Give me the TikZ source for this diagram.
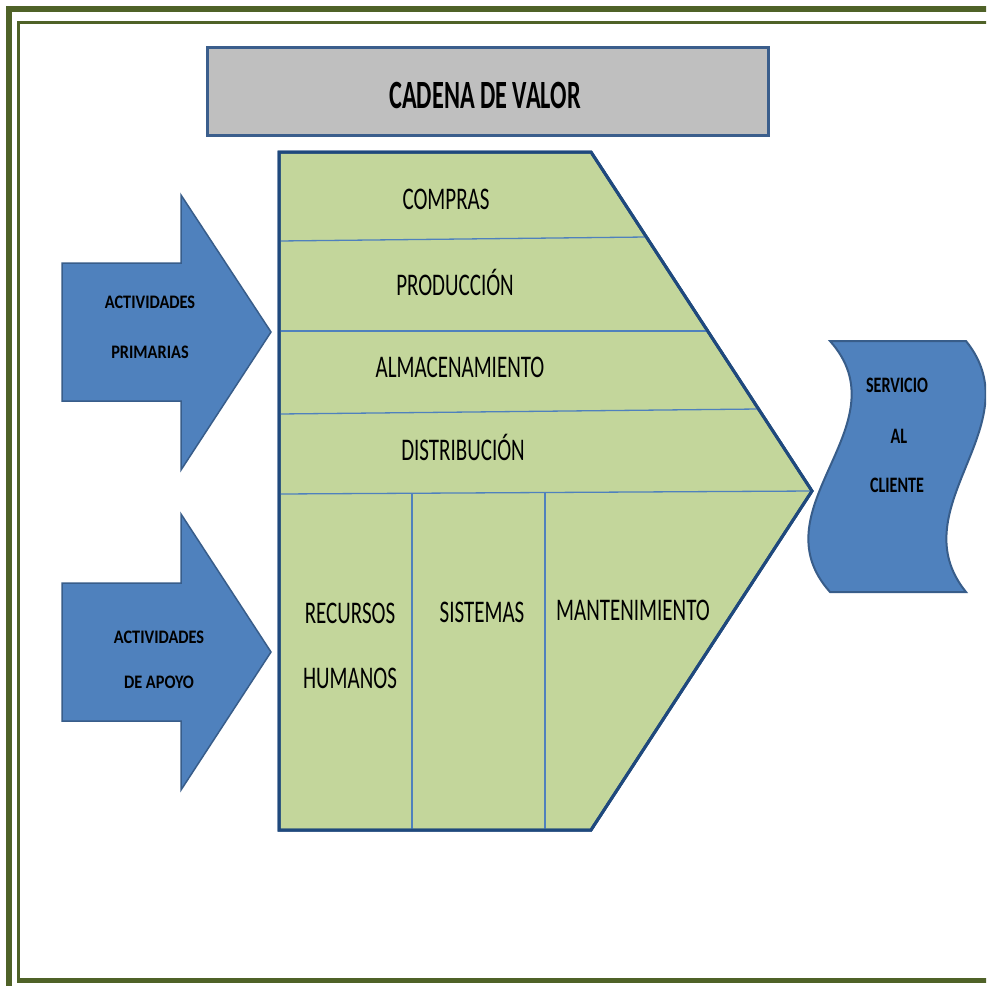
\documentclass[tikz,border=0pt]{standalone}
\usepackage{fontspec}
\setmainfont{Carlito}
\usepackage{graphicx}

\definecolor{frameolive}{HTML}{4F6228}
\definecolor{titlegray}{HTML}{BFBFBF}
\definecolor{titleedge}{HTML}{3B5E8C}
\definecolor{chevfill}{HTML}{C3D69B}
\definecolor{chevedge}{HTML}{1F497D}
\definecolor{divider}{HTML}{4F81BD}
\definecolor{shapeblue}{HTML}{4F81BD}
\definecolor{shapeedge}{HTML}{385D8A}

% vertically stretched text
\newcommand{\vstr}[2]{\scalebox{1}[#1]{#2}}

\begin{document}
\begin{tikzpicture}[x=1pt,y=-1pt,
  framethick/.style={draw=frameolive,line width=6pt},
  framethin/.style={draw=frameolive,line width=3pt},
  titlebox/.style={draw=titleedge,fill=titlegray,line width=3pt,minimum width=561pt,minimum height=88pt,inner sep=0pt},
  chevron/.style={draw=chevedge,fill=chevfill,line width=3pt,line join=miter},
  divline/.style={draw=divider,line width=1.3pt},
  blockarrow/.style={draw=shapeedge,fill=shapeblue,line width=1.5pt,line join=miter},
  waveshape/.style={draw=shapeedge,fill=shapeblue,line width=2pt},
  titletext/.style={inner sep=0pt,anchor=base,font=\fontsize{24.3}{28}\selectfont\bfseries},
  chevtext/.style={inner sep=0pt,anchor=base,font=\fontsize{21}{25}\selectfont},
  arrowtext/.style={inner sep=0pt,anchor=base,font=\fontsize{16.3}{19}\selectfont\bfseries},
  wavetext/.style={inner sep=0pt,anchor=base,font=\fontsize{16.1}{19}\selectfont\bfseries}
]
\useasboundingbox (0,0) rectangle (986,986);
\fill[white] (0,0) rectangle (986,986);
\clip (0,0) rectangle (986,986);

% double page frame
\draw[framethick] (9,1000) -- (9,9) -- (1000,9);
\draw[framethin] (18.5,980.5) -- (18.5,22.5) -- (1000,22.5);
\draw[draw=frameolive,line width=5pt] (17,980.5) -- (1000,980.5);

% title
\node[titlebox] (title) at (487.5,91) {};
\node[titletext] (titlelbl) at (485,108) {\vstr{1.65}{CADENA DE VALOR}};

% value chain chevron
\coordinate (ctl) at (279,152);
\coordinate (ctr) at (591,152);
\coordinate (tip) at (812,491);
\coordinate (cbr) at (591,830);
\coordinate (cbl) at (279,830);
\path[chevron] (ctl) -- (ctr) -- (tip) -- (cbr) -- (cbl) -- cycle;

\coordinate (d1l) at (279,241);   \coordinate (d1r) at (646,237);
\coordinate (d2l) at (279,331);   \coordinate (d2r) at (707,331);
\coordinate (d3l) at (279,414);   \coordinate (d3r) at (758,409);
\coordinate (d4l) at (279,494);   \coordinate (d4r) at (tip);
\coordinate (v1t) at (412,493);   \coordinate (v1b) at (412,830);
\coordinate (v2t) at (545,492);   \coordinate (v2b) at (545,830);
\draw[divline] (d1l) -- (d1r);
\draw[divline] (d2l) -- (d2r);
\draw[divline] (d3l) -- (d3r);
\draw[divline] (d4l) -- (d4r);
\draw[divline] (v1t) -- (v1b);
\draw[divline] (v2t) -- (v2b);
\path[chevron,fill=none] (ctl) -- (ctr) -- (tip) -- (cbr) -- (cbl) -- cycle;

\node[chevtext] (compras) at (446,209) {\vstr{1.5}{COMPRAS}};
\node[chevtext] (produccion) at (455,295) {\vstr{1.5}{PRODUCCIÓN}};
\node[chevtext] (almacen) at (460,377) {\vstr{1.5}{ALMACENAMIENTO}};
\node[chevtext] (distrib) at (463,460) {\vstr{1.5}{DISTRIBUCIÓN}};
\node[chevtext] (recursos) at (350,623) {\vstr{1.5}{RECURSOS}};
\node[chevtext] (humanos) at (350,688) {\vstr{1.5}{HUMANOS}};
\node[chevtext] (sistemas) at (482,622) {\vstr{1.5}{SISTEMAS}};
\node[chevtext] (manten) at (633,620) {\vstr{1.5}{MANTENIMIENTO}};

% input arrows
\path[blockarrow] (62,263) -- (181,263) -- (181,195) -- (271,332) -- (181,470) -- (181,401) -- (62,401) -- cycle;
\path[blockarrow] (62,583) -- (181,583) -- (181,514) -- (271,652) -- (181,790) -- (181,721) -- (62,721) -- cycle;
\node[arrowtext] (prim1) at (150,308) {\vstr{1.17}{ACTIVIDADES}};
\node[arrowtext] (prim2) at (150,358) {\vstr{1.17}{PRIMARIAS}};
\node[arrowtext] (apoyo1) at (159,643) {\vstr{1.17}{ACTIVIDADES}};
\node[arrowtext] (apoyo2) at (159,688) {\vstr{1.17}{DE APOYO}};

% customer service wave
\path[waveshape] (830,341) -- (966,341)
  .. controls (1034,425) and (898,508) .. (966,592)
  -- (830,592)
  .. controls (755,508) and (905,425) .. (830,341) -- cycle;
\node[wavetext] (serv1) at (897,392) {\vstr{1.37}{SERVICIO}};
\node[wavetext] (serv2) at (899,443) {\vstr{1.37}{AL}};
\node[wavetext] (serv3) at (897,492) {\vstr{1.37}{CLIENTE}};
\end{tikzpicture}
\end{document}
